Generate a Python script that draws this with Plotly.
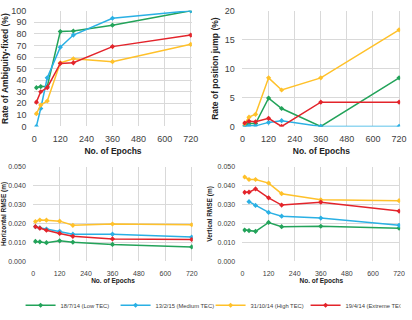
import plotly.graph_objects as go

epochs = [10, 30, 60, 120, 180, 360, 720]
series_names = ["18/7/14 (Low TEC)", "13/2/15 (Medium TEC)", "31/10/14 (High TEC)", "19/4/14 (Extreme TEC)"]
colors = ["#23A35A", "#2AB0E4", "#FFC12A", "#E3242B"]

amb_low = [33.5, 34.5, 34.5, 82, 82.5, 87.5, 100]
amb_med = [0, 15.5, 42, 68.5, 79, 93.5, 100]
amb_high = [11, 18.5, 22, 55, 58.5, 56, 71]
amb_ext = [21, 30, 33.5, 54.5, 55, 69, 79]

jump_low = [0.2, 0.5, 0.5, 4.9, 3.1, 0, 8.4]
jump_med = [0, 0.1, 0.1, 0.7, 1.0, 0, 0]
jump_high = [0.5, 1.6, 2.1, 8.4, 6.3, 8.4, 16.7]
jump_ext = [0.6, 0.9, 0.8, 1.4, 0, 4.2, 4.2]

hor_low = [0.0105, 0.0103, 0.0098, 0.0108, 0.0101, 0.0089, 0.0076]
hor_med = [0.0183, 0.0176, 0.0170, 0.0158, 0.0143, 0.0143, 0.0128]
hor_high = [0.0210, 0.0218, 0.0217, 0.0212, 0.0190, 0.0197, 0.0193]
hor_ext = [0.0183, 0.0175, 0.0164, 0.0147, 0.0132, 0.0118, 0.0115]

ver_epochs_med = [30, 60, 120, 180, 360, 720]
ver_low = [0.0165, 0.0162, 0.0158, 0.0205, 0.0183, 0.0185, 0.0175]
ver_med = [0.0315, 0.0295, 0.0258, 0.0238, 0.0228, 0.0190]
ver_high = [0.0445, 0.0432, 0.0432, 0.0413, 0.0357, 0.0325, 0.0320]
ver_ext = [0.0364, 0.0365, 0.0382, 0.0335, 0.0297, 0.0312, 0.0265]

panels = [
    ("x", "y", [(epochs, amb_low), (epochs, amb_med), (epochs, amb_high), (epochs, amb_ext)]),
    ("x2", "y2", [(epochs, jump_low), (epochs, jump_med), (epochs, jump_high), (epochs, jump_ext)]),
    ("x3", "y3", [(epochs, hor_low), (epochs, hor_med), (epochs, hor_high), (epochs, hor_ext)]),
    ("x4", "y4", [(epochs, ver_low), (ver_epochs_med, ver_med), (epochs, ver_high), (epochs, ver_ext)]),
]

fig = go.Figure()
for pi, (xa, ya, data) in enumerate(panels):
    for si, (xs, ys) in enumerate(data):
        fig.add_trace(go.Scatter(
            x=xs, y=ys, xaxis=xa, yaxis=ya, mode="lines+markers",
            name=series_names[si], showlegend=(pi == 0),
            line=dict(color=colors[si], width=1.5),
            marker=dict(color=colors[si], size=4, symbol="diamond"),
        ))

W, H = 412, 320
def fx(px): return px / W
def fy(py): return 1 - py / H

grid = "#D9D9D9"
tickfont_big = dict(size=9, color="#404040")
tickfont_small = dict(size=7, color="#404040")
title_big = dict(size=8.5, color="#222222")
title_small = dict(size=6.5, color="#222222")

def xaxis(dom, anchor, tf, ttf, tl, so):
    return dict(domain=dom, anchor=anchor, range=[0, 725], tickvals=[0, 120, 240, 360, 480, 600, 720],
                showgrid=True, gridcolor=grid, gridwidth=1, zeroline=False, showline=False,
                ticks="outside", ticklen=tl, tickcolor="rgba(0,0,0,0)",
                tickfont=tf, title=dict(text="<b>No. of Epochs</b>", font=ttf, standoff=so))

def yaxis(dom, anchor, rng, dt, tf, ttf, title, fmt=None):
    d = dict(domain=dom, anchor=anchor, range=rng, dtick=dt, showgrid=True, gridcolor=grid, gridwidth=1,
             zeroline=False, showline=False, tickfont=tf, ticks="outside", ticklen=5,
             tickcolor="rgba(0,0,0,0)",
             title=dict(text="<b>" + title + "</b>", font=ttf, standoff=4))
    if fmt:
        d["tickformat"] = fmt
    return d

fig.update_layout(
    width=W, height=H, margin=dict(l=0, r=0, t=0, b=0),
    paper_bgcolor="white", plot_bgcolor="white",
    font=dict(family="Liberation Sans, Arial, sans-serif", color="#404040"),
    xaxis=xaxis([fx(30), fx(192)], "y", tickfont_big, title_big, 4, 4),
    yaxis=yaxis([fy(127), fy(6)], "x", [0, 100], 10, tickfont_big, title_big, "Rate of Ambiguity-fixed (%)"),
    xaxis2=xaxis([fx(244), fx(406)], "y2", tickfont_big, title_big, 4, 4),
    yaxis2=yaxis([fy(127), fy(6)], "x2", [0, 20], 5, tickfont_big, title_big, "Rate of position jump (%)"),
    xaxis3=xaxis([fx(29), fx(193)], "y3", tickfont_small, title_small, 5, 1),
    yaxis3=yaxis([fy(268), fy(169)], "x3", [0, 0.05], 0.01, tickfont_small, title_small, "Horizontal RMSE (m)", ".3f"),
    xaxis4=xaxis([fx(244), fx(406)], "y4", tickfont_small, title_small, 5, 1),
    yaxis4=yaxis([fy(268), fy(169)], "x4", [0, 0.05], 0.01, tickfont_small, title_small, "Vertical RMSE (m)", ".3f"),
    legend=dict(orientation="h", x=fx(16), xanchor="left", y=fy(314), yanchor="middle",
                font=dict(size=5.8, color="#404040"), itemwidth=30, entrywidth=50, tracegroupgap=0,
                bgcolor="rgba(0,0,0,0)"),
)

fig.write_html("out.html")
